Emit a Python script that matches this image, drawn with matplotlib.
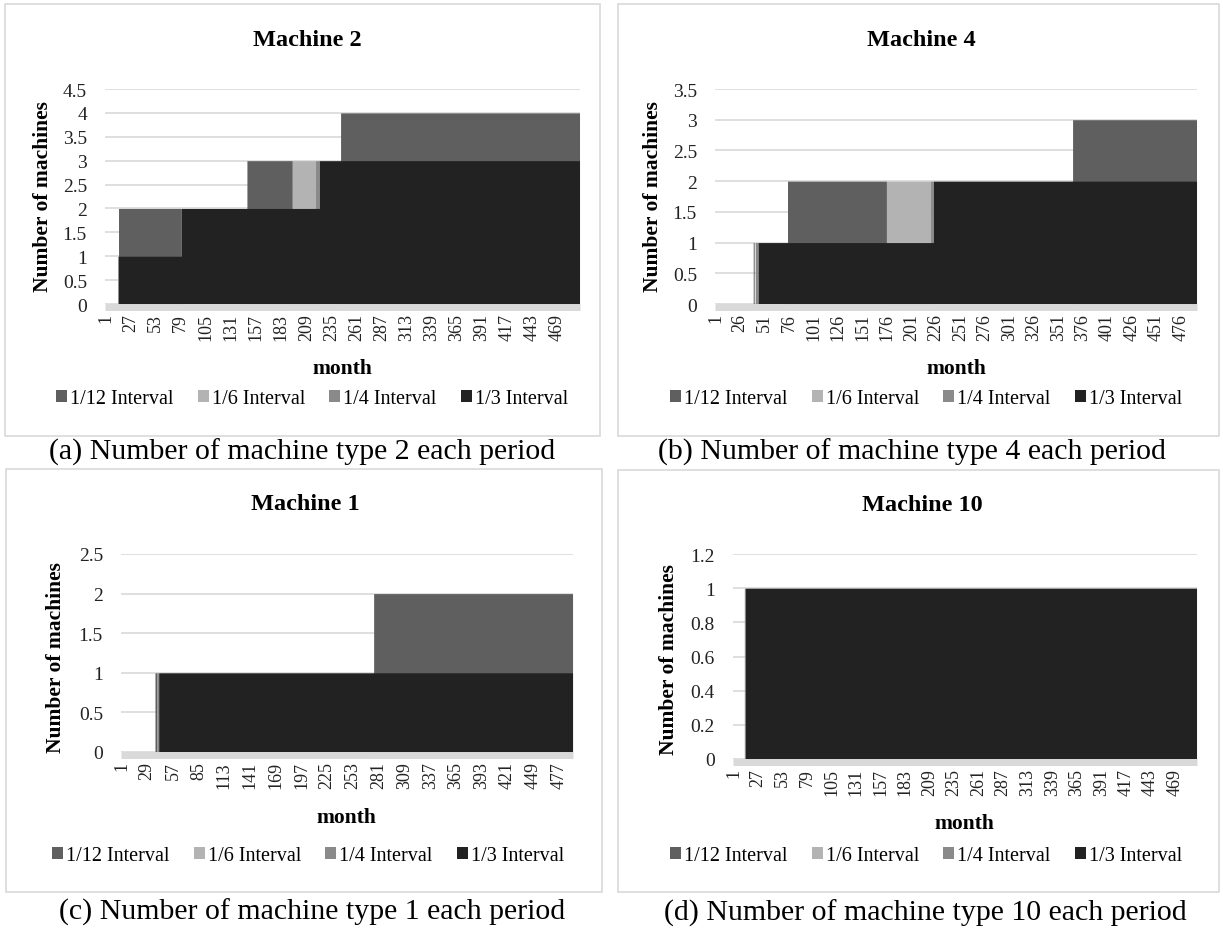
import matplotlib
matplotlib.use('Agg')
import matplotlib.pyplot as plt
from matplotlib.patches import Patch, Rectangle
import numpy as np

plt.rcParams['font.family'] = ['Liberation Serif', 'DejaVu Serif']

# ---------------------------------------------------------------- data
N_MONTHS = 492
series_names = ['1/12 Interval', '1/6 Interval', '1/4 Interval', '1/3 Interval']
series_colors = ['#5f5f5f', '#b3b3b3', '#8a8a8a', '#222222']

# segments: (first month, last month, number of machines)
m2_twelfth = [(15, 79, 2), (148, 194, 3), (245, 492, 4)]
m2_sixth = [(195, 218, 3)]
m2_quarter = [(14, 14, 1), (219, 222, 3)]
m2_third = [(15, 79, 1), (80, 222, 2), (223, 492, 3)]

m4_twelfth = [(40, 40, 1), (75, 175, 2), (366, 492, 3)]
m4_sixth = [(176, 220, 2)]
m4_quarter = [(42, 44, 1), (221, 223, 2)]
m4_third = [(45, 223, 1), (224, 492, 2)]

m1_twelfth = [(38, 39, 1), (276, 492, 2)]
m1_sixth = []
m1_quarter = [(40, 41, 1)]
m1_third = [(42, 492, 1)]

m10_twelfth = []
m10_sixth = []
m10_quarter = [(13, 13, 1)]
m10_third = [(14, 492, 1)]

m2_yticks = [0, 0.5, 1, 1.5, 2, 2.5, 3, 3.5, 4, 4.5]
m4_yticks = [0, 0.5, 1, 1.5, 2, 2.5, 3, 3.5]
m1_yticks = [0, 0.5, 1, 1.5, 2, 2.5]
m10_yticks = [0, 0.2, 0.4, 0.6, 0.8, 1, 1.2]

m2_xstep, m4_xstep, m1_xstep, m10_xstep = 26, 25, 28, 26


def levels(segments):
    y = np.zeros(N_MONTHS)
    for a, b, v in segments:
        y[a - 1:b] = v
    return y


W, H = 1223, 929
fig = plt.figure(figsize=(W / 100, H / 100), dpi=100)
fig.patch.set_facecolor('white')


def fx(x):
    return x / W


def fy(y):
    return 1 - y / H


def panel(plot_box, frame_box, title, title_xy, ylab_xy, xlab_xy, leg_xy, cap, cap_xy,
          series, yticks, xstep):
    # chart-area border
    fl, ft, fr, fb = frame_box
    fig.patches.append(Rectangle((fx(fl), fy(fb)), fx(fr - fl), (fb - ft) / H,
                                 transform=fig.transFigure, fill=False,
                                 edgecolor='#d9d9d9', lw=1.2))
    l, t, r, b = plot_box
    ax = fig.add_axes([fx(l), fy(b), fx(r - l), (b - t) / H])
    # thick light axis band under zero (set first: set_position resets ticks)
    ax.spines['bottom'].set_position(('outward', 2.5))
    ax.spines['bottom'].set_color('#d9d9d9')
    ax.spines['bottom'].set_linewidth(5)
    ax.spines['bottom'].set_capstyle('butt')
    for s in ['left', 'right', 'top']:
        ax.spines[s].set_visible(False)

    x = np.arange(1, N_MONTHS + 1)
    for segs, c in zip(series, series_colors):
        ax.fill_between(x, 0, levels(segs), color=c, lw=0, step='mid')
    ax.set_xlim(0.5, N_MONTHS + 0.5)
    ax.set_ylim(yticks[0], yticks[-1])
    ax.set_yticks(yticks)
    ax.set_yticklabels(['{:g}'.format(v) for v in yticks], fontsize=14)
    xt = np.arange(1, N_MONTHS + 1, xstep)
    ax.set_xticks(xt)
    ax.set_xticklabels([str(v) for v in xt], rotation=90, fontsize=13)
    ax.tick_params(axis='both', length=0, colors='#222222')
    ax.tick_params(axis='y', pad=13)
    ax.tick_params(axis='x', pad=4)
    ax.yaxis.grid(True, color='#d9d9d9', lw=1.2)
    ax.set_axisbelow(True)

    fig.text(fx(title_xy[0]), fy(title_xy[1]), title, ha='center', va='center',
             fontsize=17.5, weight='bold')
    fig.text(fx(ylab_xy[0]), fy(ylab_xy[1]), 'Number of machines', ha='center',
             va='center', rotation=90, fontsize=15.5, weight='bold')
    fig.text(fx(xlab_xy[0]), fy(xlab_xy[1]), 'month', ha='center', va='center',
             fontsize=15.5, weight='bold')
    handles = [Patch(facecolor=c, edgecolor='none') for c in series_colors]
    fig.legend(handles, series_names, loc='center', ncol=4, frameon=False,
               bbox_to_anchor=(fx(leg_xy[0]), fy(leg_xy[1])), fontsize=14.5,
               handlelength=0.55, handleheight=0.55, handletextpad=0.15,
               columnspacing=1.2)
    fig.text(fx(cap_xy[0]), fy(cap_xy[1]), cap, ha='center', va='center', fontsize=21.5)
    return ax


panel((105, 90, 580, 305), (5, 5, 600, 437), 'Machine 2', (307, 40), (43, 197),
      (342, 369), (312, 400), '(a) Number of machine type 2 each period', (302, 452),
      [m2_twelfth, m2_sixth, m2_quarter, m2_third], m2_yticks, m2_xstep)
panel((715, 90, 1197, 305), (618, 5, 1219, 437), 'Machine 4', (921, 40), (653, 197),
      (956, 369), (926, 400), '(b) Number of machine type 4 each period', (912, 452),
      [m4_twelfth, m4_sixth, m4_quarter, m4_third], m4_yticks, m4_xstep)
panel((121, 555, 573, 753), (6, 470, 602, 893), 'Machine 1', (305, 505), (56, 658),
      (346, 818), (308, 857), '(c) Number of machine type 1 each period', (312, 912),
      [m1_twelfth, m1_sixth, m1_quarter, m1_third], m1_yticks, m1_xstep)
panel((733, 555, 1197, 760), (618, 471, 1219, 893), 'Machine 10', (922, 506), (669, 660),
      (964, 824), (926, 857), '(d) Number of machine type 10 each period', (925, 913),
      [m10_twelfth, m10_sixth, m10_quarter, m10_third], m10_yticks, m10_xstep)

fig.savefig('out.png', dpi=100, facecolor='white')
plt.close(fig)
